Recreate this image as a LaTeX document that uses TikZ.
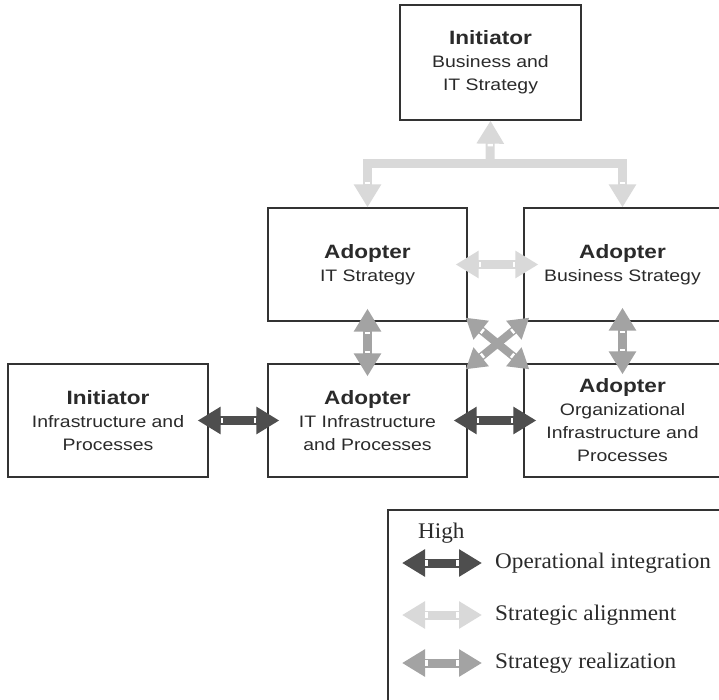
\documentclass[tikz,border=0pt]{standalone}
\usepackage{fontspec}
\setmainfont[FakeStretch=1.04]{Liberation Serif}
\newfontfamily\boxfont[FakeStretch=1.17]{Liberation Sans}
\usetikzlibrary{arrows.meta,decorations.markings,calc}
\definecolor{darkA}{HTML}{4E4E4E}
\definecolor{midA}{HTML}{A3A3A3}
\definecolor{lightA}{HTML}{D9D9D9}
\definecolor{frameC}{HTML}{333333}
\definecolor{textC}{HTML}{2A2A2A}
\newcommand{\hd}[1]{{\fontsize{19.3}{23}\selectfont\bfseries #1}}
\tikzset{
  box/.style={draw=frameC, line width=1.3pt, rectangle, align=center, inner sep=0pt,
    text=textC, font=\boxfont\fontsize{16.6}{23}\selectfont},
  legendbox/.style={draw=frameC, line width=1.3pt, rectangle, inner sep=0pt},
  legtext/.style={anchor=west, inner sep=0pt, text=textC, font=\fontsize{22.3}{24}\selectfont},
  whitemarks/.style={postaction={decorate}, decoration={markings,
    mark=at position #1 with {\fill[white] (-1.2pt,-2.6pt) rectangle (1.2pt,2.6pt);},
    mark=at position -#1 with {\fill[white] (-1.2pt,-2.6pt) rectangle (1.2pt,2.6pt);}}},
  endmark/.style={postaction={decorate}, decoration={markings,
    mark=at position -#1 with {\fill[white] (-1.2pt,-2.6pt) rectangle (1.2pt,2.6pt);}}},
  fatarrow/.style={line width=9pt, line join=miter,
    {Triangle[width=26pt,length=23pt]}-{Triangle[width=26pt,length=23pt]}, whitemarks=24.5pt},
  smallfat/.style={line width=8pt, line join=miter,
    {Triangle[width=23pt,length=20pt]}-{Triangle[width=23pt,length=20pt]}, whitemarks=21.5pt},
  uparrow/.style={line width=9pt, -{Triangle[width=26pt,length=23pt]}, endmark=24.5pt},
}
\begin{document}
\begin{tikzpicture}[x=1pt,y=-1pt]
\useasboundingbox (0,0) rectangle (719,700);

% boxes
\node[box, minimum width=181pt, minimum height=115pt] (top) at (490.5,62.5)
  {\hd{Initiator}\\Business and\\IT Strategy};
\node[box, minimum width=199pt, minimum height=113pt] (itstrat) at (367.5,264.5)
  {\hd{Adopter}\\IT Strategy};
\node[box, minimum width=197pt, minimum height=113pt] (busstrat) at (622.5,264.5)
  {\hd{Adopter}\\Business Strategy};
\node[box, minimum width=200pt, minimum height=113pt] (initinfra) at (108,420.5)
  {\hd{Initiator}\\Infrastructure and\\Processes};
\node[box, minimum width=199pt, minimum height=113pt] (itinfra) at (367.5,420.5)
  {\hd{Adopter}\\IT Infrastructure\\and Processes};
\node[box, minimum width=197pt, minimum height=113pt] (org) at (622.5,420.5)
  {\hd{Adopter}\\Organizational\\Infrastructure and\\Processes};

% strategic alignment (light)
\coordinate (bar) at (490,164);
\draw[fatarrow, lightA] (itstrat.north) |- (bar) -| (busstrat.north);
\draw[uparrow, lightA] (bar) -- (top.south);
\draw[fatarrow, lightA] ([xshift=-12pt]itstrat.east) -- ([xshift=15pt]busstrat.west);

% strategy realization (mid)
\draw[fatarrow, midA] ([yshift=13pt]itstrat.south) -- ([yshift=-13pt]itinfra.north);
\draw[fatarrow, midA] ([yshift=14pt]busstrat.south) -- ([yshift=-11pt]org.north);
\draw[smallfat, midA] ([shift={(-2pt,4pt)}]itstrat.south east) -- ([shift={(6pt,-6pt)}]org.north west);
\draw[smallfat, midA] ([shift={(6pt,4pt)}]busstrat.south west) -- ([shift={(-2pt,-6pt)}]itinfra.north east);

% operational integration (dark)
\draw[fatarrow, darkA] ([xshift=-11pt]initinfra.east) -- ([xshift=12pt]itinfra.west);
\draw[fatarrow, darkA] ([xshift=-14pt]itinfra.east) -- ([xshift=13pt]org.west);

% legend
\node[legendbox, minimum width=342pt, minimum height=200pt] (legend) at (559,610) {};
\node[legtext] (high) at (418,533) {High};
\coordinate (d1) at (402,563); \coordinate (d2) at (482,563);
\coordinate (l1) at (402,615); \coordinate (l2) at (482,615);
\coordinate (m1) at (402,663); \coordinate (m2) at (482,663);
\draw[fatarrow, darkA] (d1) -- (d2);
\draw[fatarrow, lightA] (l1) -- (l2);
\draw[fatarrow, midA] (m1) -- (m2);
\node[legtext] (t1) at (495,563) {Operational integration};
\node[legtext] (t2) at (495,615) {Strategic alignment};
\node[legtext] (t3) at (495,663) {Strategy realization};
\end{tikzpicture}
\end{document}
